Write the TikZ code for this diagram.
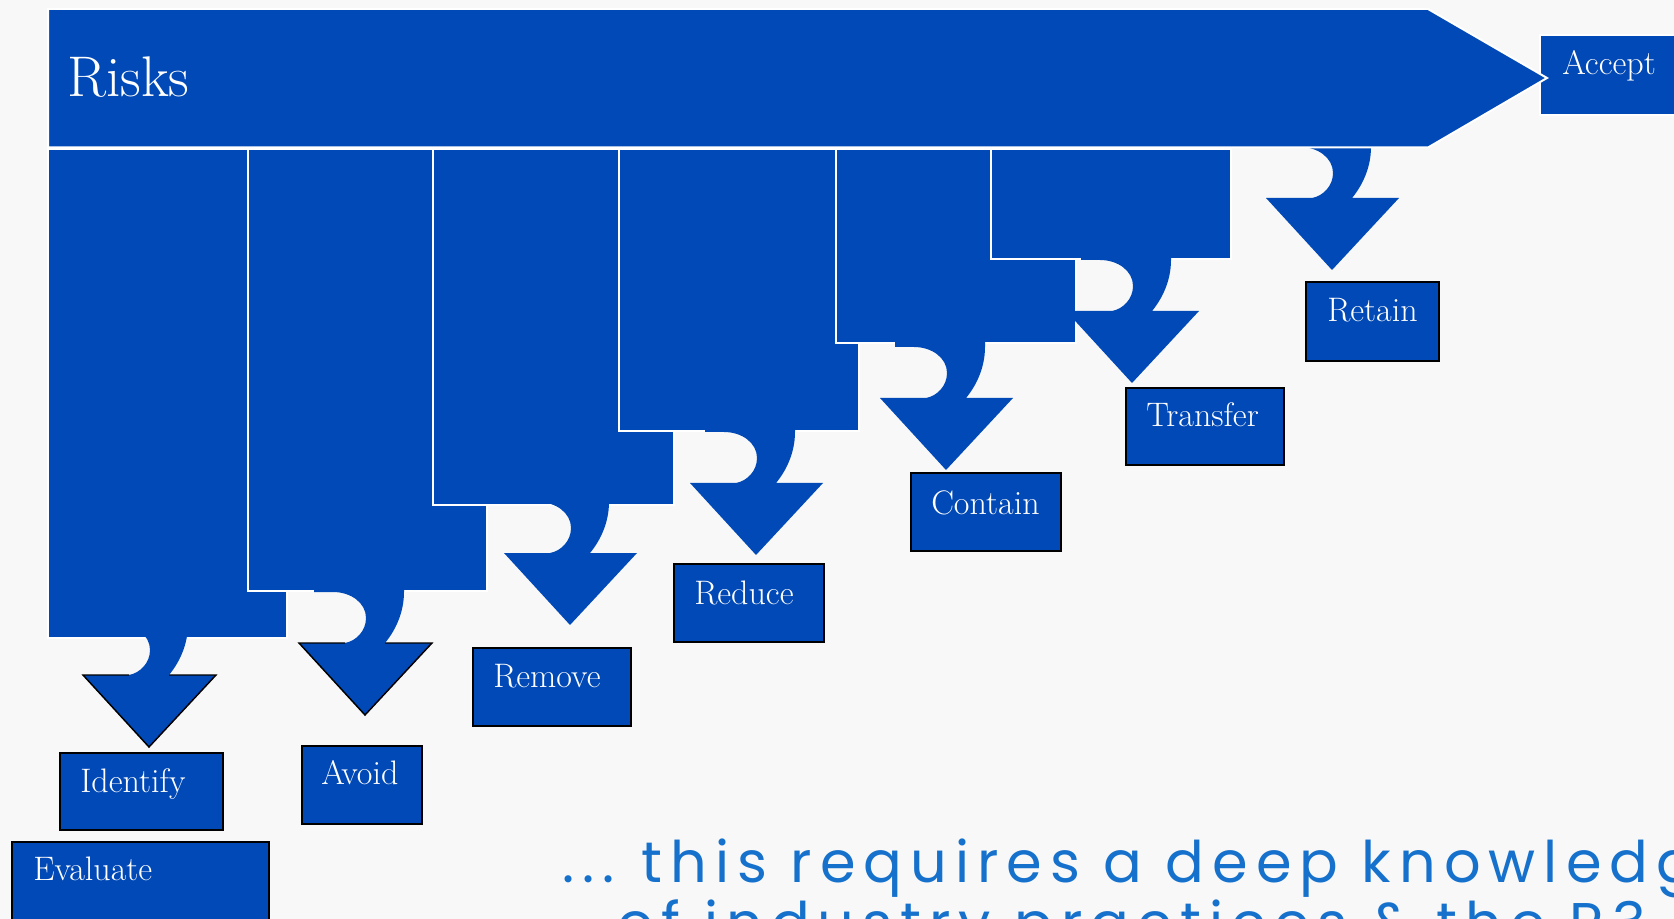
\documentclass[tikz,border=0pt]{standalone}
\usepackage{fontspec}
\usepackage{graphicx}
\newfontfamily\notefont[LetterSpace=14]{Poppins}
\definecolor{rblue}{RGB}{0,73,183}
\definecolor{tblue}{RGB}{22,113,204}
\definecolor{bgc}{RGB}{248,248,248}
\newcommand{\lb}[1]{#1}
\tikzset{
  blk/.style={fill=rblue, draw=white, line width=1.5pt},
  lblbox/.style={fill=rblue, draw=black, line width=1.8pt},
  lbl/.style={text=white, font=\fontsize{25.5}{30}\selectfont, anchor=base west, inner sep=0pt},
  risklbl/.style={text=white, font=\fontsize{43}{50}\selectfont, anchor=base west, inner sep=0pt},
  note/.style={text=tblue, font=\notefont\fontsize{43}{50}\selectfont, anchor=base west, inner sep=0pt},
  hookarrow/.pic={
    \fill[rblue] (-51,-56) -- (-51,-51) -- (-32,-51) .. controls (-14,-51) and (1,-40) .. (1,-25)
      .. controls (1,-12) and (-9,-2) .. (-20,0) -- (-66,0) -- (0,72) -- (67,0) -- (20,0)
      .. controls (30,-12) and (39,-30) .. (39,-51) -- (39,-56) -- cycle;
  },
  hookarrowo/.pic={
    \fill[rblue] (-51,-56) -- (-51,-51) -- (-32,-51) .. controls (-14,-51) and (1,-40) .. (1,-25)
      .. controls (1,-12) and (-9,-2) .. (-20,0) -- (-66,0) -- (0,72) -- (67,0) -- (20,0)
      .. controls (30,-12) and (39,-30) .. (39,-51) -- (39,-56) -- cycle;
    \draw[black, line width=1.1pt, line join=miter] (-20,0) -- (-66,0) -- (0,72) -- (67,0) -- (20,0);
  }
}
\begin{document}
\begin{tikzpicture}[x=0.75pt,y=-0.75pt]
\useasboundingbox (0,0) rectangle (1674,919);
\clip (0,0) rectangle (1674,919);
\fill[bgc] (0,0) rectangle (1674,919);

% columns
\filldraw[blk] (48,149.5) rectangle (287,638);
\filldraw[blk] (248,149.5) rectangle (487,591);
\filldraw[blk] (433,149.5) rectangle (674,505);
\filldraw[blk] (619,149.5) rectangle (859,431);
\filldraw[blk] (836,149.5) rectangle (1076,343);
\filldraw[blk] (991,149.5) rectangle (1231,259);

% curved arrows
\pic at (149,675) {hookarrowo};
\pic at (365,643) {hookarrowo};
\pic at (570,553) {hookarrow};
\pic at (756,483) {hookarrow};
\pic at (946,398) {hookarrow};
\pic at (1132,311) {hookarrow};
\pic at (1332,198) {hookarrow};

% accept box and banner
\filldraw[fill=rblue, draw=white, line width=0.8pt] (1540,35) rectangle (1690,115);
\filldraw[blk] (48,9) -- (1428,9) -- (1547,78) -- (1428,147.5) -- (48,147.5) -- cycle;
\node[risklbl] (risks) at (67,97) {Risks};
\node[lbl] (accept) at (1562,75) {\lb{Accept}};

% label boxes
\filldraw[lblbox] (60,753) rectangle (223,830);
\node[lbl] (identify) at (80,792) {\lb{Identify}};
\filldraw[lblbox] (12,842) rectangle (269,935);
\node[lbl] (evaluate) at (33,880) {\lb{Evaluate}};
\filldraw[lblbox] (302,746) rectangle (422,824);
\node[lbl] (avoid) at (321,784) {\lb{Avoid}};
\filldraw[lblbox] (473,648) rectangle (631,726);
\node[lbl] (remove) at (493,687) {\lb{Remove}};
\filldraw[lblbox] (674,564) rectangle (824,642);
\node[lbl] (reduce) at (694,604) {\lb{Reduce}};
\filldraw[lblbox] (911,473) rectangle (1061,551);
\node[lbl] (contain) at (931,514) {\lb{Contain}};
\filldraw[lblbox] (1126,388) rectangle (1284,465);
\node[lbl] (transfer) at (1146,427) {\lb{Transfer}};
\filldraw[lblbox] (1306,282) rectangle (1439,361);
\node[lbl] (retain) at (1327,322) {\lb{Retain}};

% bottom text
\node[note] (line1) at (562,882) {...\hspace{0.48em}this requires a deep knowledge};
\node[note] (line2) at (617,943) {of industry practices \& the R3};
\end{tikzpicture}
\end{document}
